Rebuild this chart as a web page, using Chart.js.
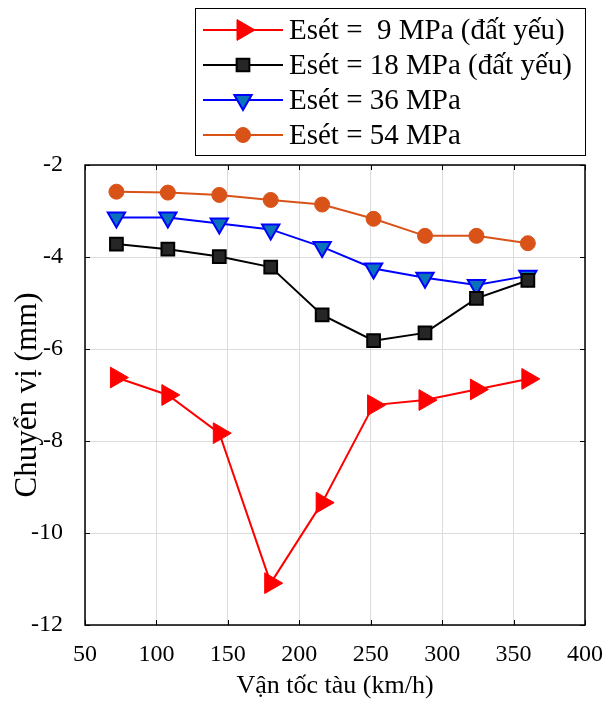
<!DOCTYPE html>
<html>
<head>
<meta charset="utf-8">
<script src="https://cdn.jsdelivr.net/npm/chart.js@4"></script>
<style>
  html, body { margin: 0; padding: 0; background: #fff; }
  #wrap { width: 609px; height: 706px; }
</style>
</head>
<body>
<div id="wrap"><canvas id="chart" width="609" height="706"></canvas></div>
<script>
const speeds = [72, 108, 144, 180, 216, 252, 288, 324, 360];
const e9 = [-6.62, -7.0, -7.83, -11.09, -9.34, -7.22, -7.11, -6.88, -6.65];
const e18 = [-3.72, -3.83, -3.99, -4.22, -5.26, -5.82, -5.65, -4.90, -4.51];
const e36 = [-3.14, -3.14, -3.27, -3.40, -3.78, -4.25, -4.45, -4.61, -4.41];
const e54 = [-2.58, -2.60, -2.65, -2.76, -2.86, -3.17, -3.54, -3.54, -3.70];
const seriesLabels = [
    "Esét =  9 MPa (đất yếu)",
    "Esét = 18 MPa (đất yếu)",
    "Esét = 36 MPa",
    "Esét = 54 MPa"
];
const xTicks = [50, 100, 150, 200, 250, 300, 350, 400];
const yTicks = [-12, -10, -8, -6, -4, -2];

const FONT = "'Liberation Serif', 'Times New Roman', serif";

function toPoints(vals) {
    return speeds.map((s, i) => ({ x: s, y: vals[i] }));
}

// box around the plot with inward ticks on all four sides
const boxPlugin = {
    id: "boxTicks",
    afterDatasetsDraw(chart) {
        const { ctx, chartArea: a, scales } = chart;
        ctx.save();
        ctx.strokeStyle = "#000";
        ctx.lineWidth = 1;
        ctx.beginPath();
        xTicks.forEach(v => {
            const px = Math.round(scales.x.getPixelForValue(v)) + 0.5;
            ctx.moveTo(px, a.bottom); ctx.lineTo(px, a.bottom - 5);
            ctx.moveTo(px, a.top); ctx.lineTo(px, a.top + 5);
        });
        yTicks.forEach(v => {
            const py = Math.round(scales.y.getPixelForValue(v)) + 0.5;
            ctx.moveTo(a.left, py); ctx.lineTo(a.left + 5, py);
            ctx.moveTo(a.right, py); ctx.lineTo(a.right - 5, py);
        });
        ctx.stroke();
        ctx.lineWidth = 1.5;
        ctx.strokeRect(a.left, a.top, a.right - a.left, a.bottom - a.top);
        ctx.restore();
    }
};

// framed legend with line + marker samples
const legendPlugin = {
    id: "boxLegend",
    afterDraw(chart) {
        const ctx = chart.ctx;
        const x0 = 195, y0 = 8, w = 390, h = 147;
        ctx.save();
        ctx.fillStyle = "#fff";
        ctx.fillRect(x0, y0, w, h);
        ctx.strokeStyle = "#000";
        ctx.lineWidth = 1;
        ctx.strokeRect(x0 + 0.5, y0 + 0.5, w, h);
        chart.data.datasets.forEach((ds, i) => {
            const cy = 30 + i * 35;
            ctx.strokeStyle = ds.borderColor;
            ctx.lineWidth = 2;
            ctx.beginPath();
            ctx.moveTo(203, cy);
            ctx.lineTo(283, cy);
            ctx.stroke();
            ctx.fillStyle = ds.pointBackgroundColor;
            ctx.strokeStyle = ds.pointBorderColor;
            ctx.lineWidth = ds.pointBorderWidth;
            Chart.helpers.drawPoint(ctx, {
                pointStyle: ds.pointStyle,
                rotation: ds.pointRotation || 0,
                radius: ds.pointRadius,
                borderWidth: ds.pointBorderWidth
            }, 243, cy);
            ctx.fillStyle = "#000";
            ctx.font = "29px " + FONT;
            ctx.textBaseline = "middle";
            ctx.textAlign = "left";
            ctx.fillText(ds.label, 289, cy + 1);
        });
        ctx.restore();
    }
};

new Chart(document.getElementById("chart").getContext("2d"), {
    type: "line",
    data: {
        datasets: [
            {
                label: seriesLabels[0],
                data: toPoints(e9),
                borderColor: "#ff0000",
                borderWidth: 2,
                pointStyle: "triangle",
                pointRotation: 90,
                pointRadius: 12,
                pointBackgroundColor: "#ff0000",
                pointBorderColor: "#ff0000",
                pointBorderWidth: 1
            },
            {
                label: seriesLabels[1],
                data: toPoints(e18),
                borderColor: "#000000",
                borderWidth: 2,
                pointStyle: "rect",
                pointRadius: 9,
                pointBackgroundColor: "#262626",
                pointBorderColor: "#000000",
                pointBorderWidth: 2
            },
            {
                label: seriesLabels[2],
                data: toPoints(e36),
                borderColor: "#0000ff",
                borderWidth: 2,
                pointStyle: "triangle",
                pointRotation: 180,
                pointRadius: 10,
                pointBackgroundColor: "#0a72ba",
                pointBorderColor: "#0000ff",
                pointBorderWidth: 2
            },
            {
                label: seriesLabels[3],
                data: toPoints(e54),
                borderColor: "#d95319",
                borderWidth: 2,
                pointStyle: "circle",
                pointRadius: 7.5,
                pointBackgroundColor: "#d95319",
                pointBorderColor: "#d95319",
                pointBorderWidth: 1
            }
        ]
    },
    options: {
        responsive: false,
        animation: false,
        layout: { padding: { top: 165, right: 24, left: 0, bottom: 0 } },
        plugins: {
            legend: { display: false },
            tooltip: { enabled: false }
        },
        scales: {
            x: {
                type: "linear",
                min: 50,
                max: 400,
                afterBuildTicks: s => { s.ticks = xTicks.map(v => ({ value: v })); },
                afterFit: s => { s.height = 81; s.paddingRight = 0; s.paddingLeft = 0; },
                grid: { color: "#dcdcdc", lineWidth: 1, drawTicks: false },
                border: { display: false },
                ticks: {
                    color: "#000",
                    padding: 15,
                    font: { family: FONT, size: 24 }
                },
                title: {
                    display: true,
                    text: "Vận tốc tàu (km/h)",
                    color: "#000",
                    padding: { top: 2 },
                    font: { family: FONT, size: 26 }
                }
            },
            y: {
                type: "linear",
                min: -12,
                max: -2,
                afterBuildTicks: s => { s.ticks = yTicks.map(v => ({ value: v })); },
                afterFit: s => { s.width = 85; },
                grid: { color: "#dcdcdc", lineWidth: 1, drawTicks: false },
                border: { display: false },
                ticks: {
                    color: "#000",
                    padding: 22,
                    font: { family: FONT, size: 24 }
                },
                title: {
                    display: true,
                    text: "Chuyển vị (mm)",
                    color: "#000",
                    padding: { top: 9, bottom: 0 },
                    font: { family: FONT, size: 31 }
                }
            }
        }
    },
    plugins: [boxPlugin, legendPlugin]
});
</script>
</body>
</html>
